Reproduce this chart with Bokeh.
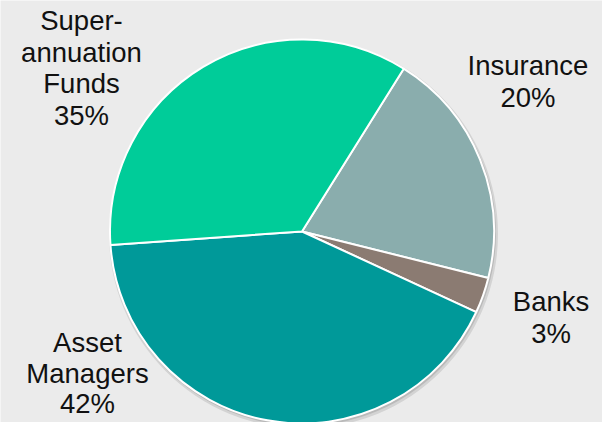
import math
from bokeh.plotting import figure
from bokeh.models import Range1d, ColumnDataSource
from bokeh.core.properties import value
from bokeh.embed import file_html
from bokeh.resources import INLINE

# ---- data ----
categories = ["Insurance", "Banks", "Asset Managers", "Superannuation Funds"]
shares = [20, 3, 42, 35]
label_lines = [["Insurance", "20%"], ["Banks", "3%"], ["Asset", "Managers", "42%"],
               ["Super-", "annuation", "Funds", "35%"]]
colors = ["#8AADAD", "#8B7B72", "#009999", "#00CC99"]

# ---- layout ----
W, H = 602, 422
BG = "#EBEBEB"
cx, cy, R = 301.5, H - 231.0, 192.0
start_deg = 58.0
label_pos = [(527.5, 65.0), (550.5, 301.0), (87.0, 342.0), (81.0, 20.0)]
line_steps = [31.5, 31.5, 30.5, 31.5]

p = figure(width=W, height=H, x_range=Range1d(0, W), y_range=Range1d(0, H),
           output_backend="svg", toolbar_location=None, min_border=0,
           background_fill_color=BG, border_fill_color=BG, outline_line_color=None)
p.axis.visible = False
p.grid.visible = False

total = float(sum(shares))
starts, ends = [], []
acc = 0.0
for s in shares:
    a0 = start_deg - acc / total * 360.0
    acc += s
    a1 = start_deg - acc / total * 360.0
    starts.append(math.radians(a0))
    ends.append(math.radians(a1))

# soft shadow
p.circle(x=[cx + 1.5], y=[cy - 2.5], radius=R + 2.5, fill_color="#000000", fill_alpha=0.10,
         line_color=None)
p.circle(x=[cx + 1.0], y=[cy - 1.5], radius=R + 1.0, fill_color="#000000", fill_alpha=0.12,
         line_color=None)

src = ColumnDataSource(dict(x=[cx] * len(shares), y=[cy] * len(shares), start=starts, end=ends,
                            color=colors, name=categories))
p.wedge(x="x", y="y", radius=R, start_angle="start", end_angle="end", direction="clock",
        fill_color="color", line_color="white", line_width=2, source=src)

xs, ys, ts = [], [], []
for (lx, ly), step, lines in zip(label_pos, line_steps, label_lines):
    for i, t in enumerate(lines):
        xs.append(lx)
        ys.append(H - (ly + i * step))
        ts.append(t)
p.text(x=xs, y=ys, text=ts, text_align="center", text_baseline="middle",
       text_font=value("Liberation Sans"), text_font_size="27.5px", text_color="#111111")

open("out.html", "w").write(file_html(p, INLINE))
